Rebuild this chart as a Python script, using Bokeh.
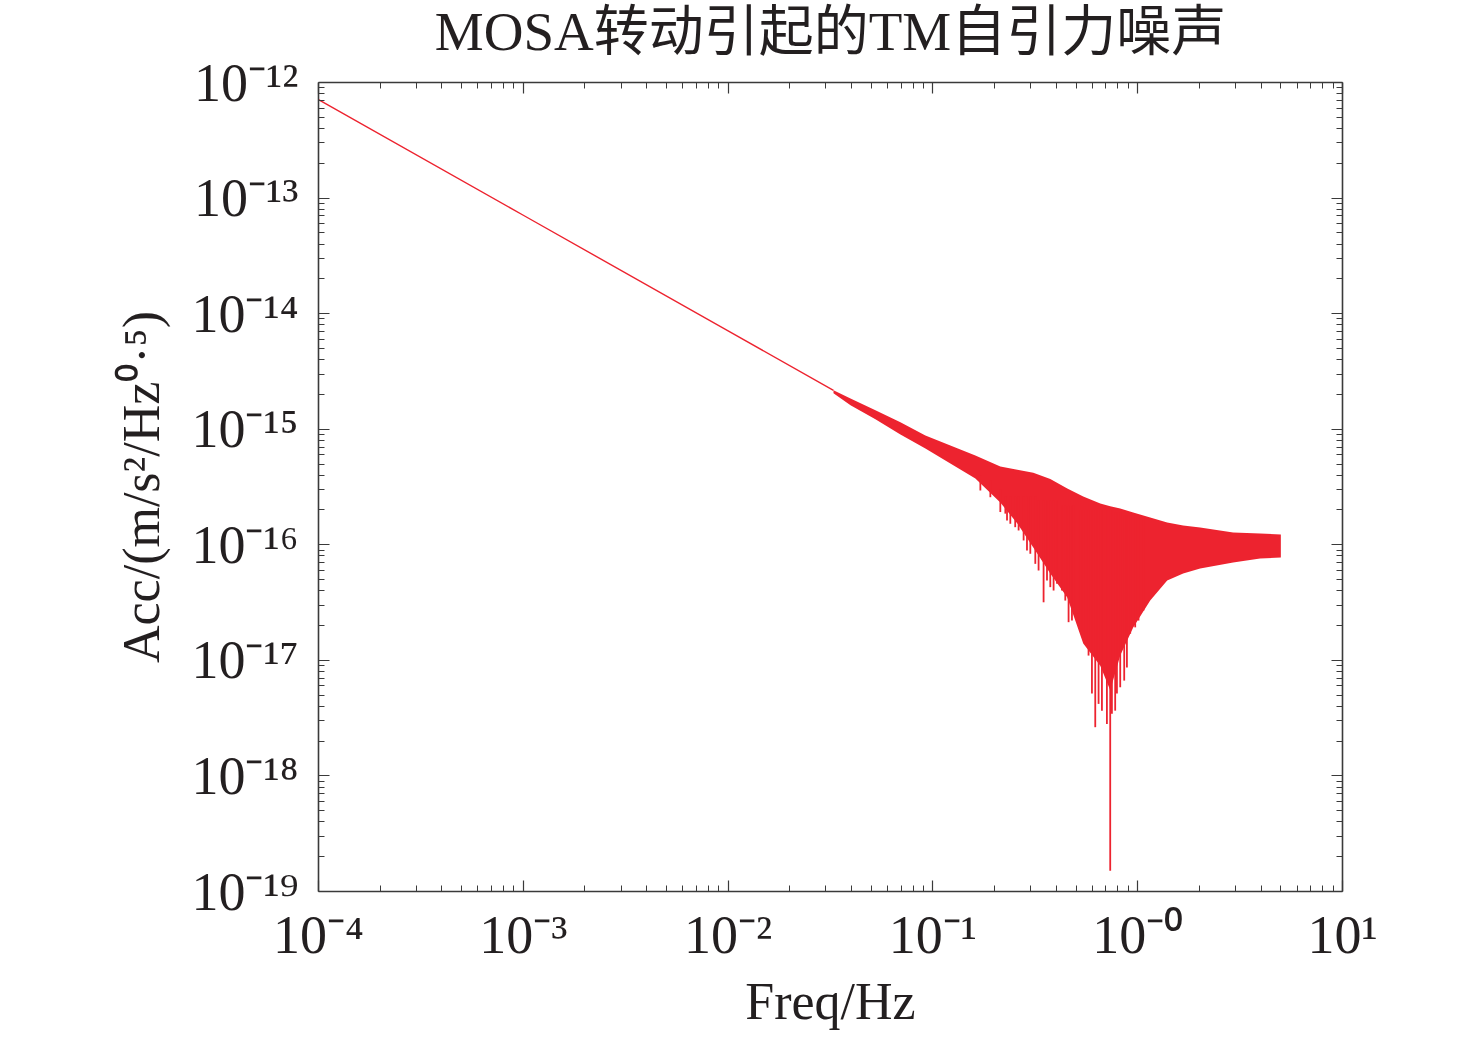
from bokeh.plotting import figure
from bokeh.models import Range1d, LogAxis, FixedTicker
from bokeh.embed import file_html
from bokeh.resources import INLINE

# ---------------- data ----------------
# low-frequency single line
line_freq = [1e-4, 1e-3, 1e-2, 0.0327]
line_acc = [7.1e-13, 7.1e-14, 7.1e-15, 2.17e-15]

# oscillating band: upper / lower envelopes
band_freq = [0.0327, 0.0396, 0.0524, 0.0694, 0.0919, 0.1217, 0.1612, 0.2134,
             0.2584, 0.3092, 0.3743, 0.4531, 0.5421, 0.6565, 0.7342, 0.8216,
             0.9506, 1.151, 1.393, 1.667, 2.018, 2.924, 3.959, 5.0]
band_upper = [2.17e-15, 1.84e-15, 1.46e-15, 1.15e-15, 8.83e-16, 7.24e-16, 5.93e-16, 4.76e-16,
              4.45e-16, 4.20e-16, 3.70e-16, 3.07e-16, 2.62e-16, 2.28e-16, 2.15e-16, 2.06e-16,
              1.90e-16, 1.72e-16, 1.56e-16, 1.47e-16, 1.41e-16, 1.28e-16, 1.25e-16, 1.23e-16]
band_lower = [2.05e-15, 1.61e-15, 1.22e-15, 9.0e-16, 6.82e-16, 5.06e-16, 3.75e-16, 2.32e-16,
              1.53e-16, 9.48e-17, 5.65e-17, 3.50e-17, 1.40e-17, 9.0e-18, 5.5e-18, 1.1e-17,
              1.92e-17, 3.30e-17, 4.91e-17, 5.65e-17, 6.24e-17, 7.03e-17, 7.61e-17, 7.76e-17]

# downward spikes below the band body (frequency, top inside band, bottom)
spike_freq = [0.1705, 0.1908, 0.2134, 0.2258, 0.2301, 0.2388, 0.2523, 0.2621, 0.2773,
              0.2880, 0.2990, 0.3162, 0.3281, 0.3471, 0.3607, 0.3743, 0.3884, 0.4036,
              0.4267, 0.4430, 0.4597, 0.4775, 0.4861, 0.5143, 0.5343, 0.5545, 0.5754,
              0.5978, 0.6205, 0.6441, 0.6689, 0.6810, 0.7074, 0.7342, 0.7483, 0.7764,
              0.7917, 0.8216, 0.8593, 0.8858, 0.9192, 0.9723, 1.009, 1.067]
spike_top = [4.0e-16, 3.6e-16, 3.0e-16, 2.6e-16, 2.6e-16, 2.6e-16, 2.6e-16, 2.6e-16, 2.6e-16,
             2.6e-16, 2.6e-16, 2.6e-16, 2.4e-16, 2.4e-16, 2.4e-16, 2.4e-16, 2.4e-16, 2.4e-16,
             2.2e-16, 2.2e-16, 2.2e-16, 2.2e-16, 2.2e-16, 2.0e-16, 2.0e-16, 2.0e-16, 2.0e-16,
             2.0e-16, 2.0e-16, 2.0e-16, 2.0e-16, 2.0e-16, 2.0e-16, 2.0e-16, 2.0e-16, 1.9e-16,
             1.9e-16, 1.9e-16, 1.8e-16, 1.8e-16, 1.8e-16, 1.8e-16, 1.8e-16, 1.7e-16]
spike_acc = [2.95e-16, 2.58e-16, 1.92e-16, 1.86e-16, 1.62e-16, 1.52e-16, 1.42e-16, 1.33e-16, 1.09e-16,
             8.92e-17, 8.36e-17, 6.84e-17, 5.99e-17, 3.18e-17, 4.91e-17, 4.30e-17, 4.02e-17, 4.60e-17,
             4.02e-17, 3.29e-17, 2.14e-17, 2.21e-17, 2.88e-17, 2.53e-17, 1.81e-17, 1.39e-17, 1.10e-17,
             5.16e-18, 2.64e-18, 4.20e-18, 3.67e-18, 8.71e-18, 2.82e-18, 1.51e-19, 3.46e-18, 3.67e-18,
             5.16e-18, 5.85e-18, 6.68e-18, 8.66e-18, 1.70e-17, 1.93e-17, 2.21e-17, 2.70e-17]

# ticks
x_ticks = [1e-4, 1e-3, 1e-2, 1e-1, 1e0, 1e1]
x_tick_labels = ["10⁻⁴", "10⁻³", "10⁻²", "10⁻¹", "10⁻⁰", "10¹"]
y_ticks = [1e-19, 1e-18, 1e-17, 1e-16, 1e-15, 1e-14, 1e-13, 1e-12]
y_tick_labels = ["10⁻¹⁹", "10⁻¹⁸", "10⁻¹⁷", "10⁻¹⁶", "10⁻¹⁵", "10⁻¹⁴", "10⁻¹³", "10⁻¹²"]
minor_mult = [2, 3, 4, 5, 6, 7, 8, 9]

title_text = "MOSA转动引起的TM自引力噪声"
x_label = "Freq/Hz"
y_label = "Acc/(m/s²/Hz⁰·⁵)"

# ---------------- styling ----------------
RED = "#ED232F"
AX = "#3a3a3a"
TXT = "#231f20"
FONT = "'Liberation Serif', 'Times New Roman', 'Noto Sans CJK SC', serif"

x_minor = [m * t for t in x_ticks[:-1] for m in minor_mult]
y_minor = [m * t for t in y_ticks[:-1] for m in minor_mult]

p = figure(width=1460, height=1033, x_axis_type="log", y_axis_type="log",
           x_range=Range1d(1e-4, 10), y_range=Range1d(1e-19, 1e-12),
           output_backend="svg", toolbar_location=None,
           min_border_left=318, min_border_right=118,
           min_border_top=82, min_border_bottom=142)
p.grid.visible = False
p.outline_line_color = None

# data glyphs
p.line(line_freq, line_acc, line_color=RED, line_width=1.4)
p.varea(x=band_freq, y1=band_lower, y2=band_upper, fill_color=RED)
p.segment(x0=spike_freq, y0=spike_top, x1=spike_freq, y1=spike_acc,
          line_color=RED, line_width=1.8)

# title
p.title.text = title_text
p.title.align = "center"
p.title.vertical_align = "top"
p.title.text_font = FONT
p.title.text_font_size = "55px"
p.title.text_font_style = "normal"
p.title.text_color = TXT
p.title.standoff = 0


def style_axis(ax, ticks, minor, labels=None):
    ax.ticker = FixedTicker(ticks=ticks, minor_ticks=minor)
    ax.axis_line_color = AX
    ax.axis_line_width = 1.6
    ax.major_tick_line_color = AX
    ax.minor_tick_line_color = AX
    ax.major_tick_line_width = 1.2
    ax.minor_tick_line_width = 1.0
    ax.major_tick_in = 11
    ax.major_tick_out = 0
    ax.minor_tick_in = 6
    ax.minor_tick_out = 0
    if labels is None:
        ax.major_label_overrides = {t: " " for t in ticks}
        ax.major_label_text_font_size = "1px"
        ax.major_label_standoff = 0
    else:
        ax.major_label_overrides = {t: l for t, l in zip(ticks, labels)}
        ax.major_label_text_font = FONT
        ax.major_label_text_font_size = "54px"
        ax.major_label_text_color = TXT


style_axis(p.xaxis[0], x_ticks, x_minor, x_tick_labels)
style_axis(p.yaxis[0], y_ticks, y_minor, y_tick_labels)
p.xaxis[0].major_label_standoff = 13
p.yaxis[0].major_label_standoff = 20

p.xaxis.axis_label = x_label
p.yaxis.axis_label = y_label
for ax in (p.xaxis[0], p.yaxis[0]):
    ax.axis_label_text_font = FONT
    ax.axis_label_text_font_size = "52px"
    ax.axis_label_text_font_style = "normal"
    ax.axis_label_text_color = TXT
p.xaxis[0].axis_label_standoff = 5
p.yaxis[0].axis_label_standoff = 18

top_ax = LogAxis()
right_ax = LogAxis()
style_axis(top_ax, x_ticks, x_minor)
style_axis(right_ax, y_ticks, y_minor)
top_ax.major_label_standoff = 15
p.add_layout(top_ax, "above")
p.add_layout(right_ax, "right")

open("out.html", "w").write(file_html(p, INLINE))
